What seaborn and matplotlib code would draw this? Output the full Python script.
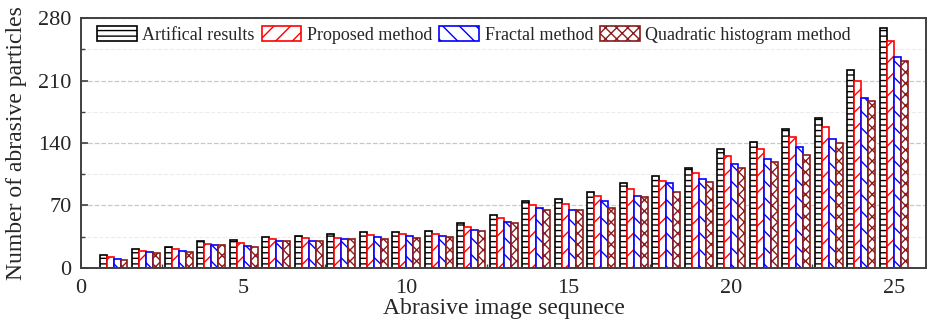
import pandas as pd
import matplotlib.pyplot as plt
import seaborn as sns
from matplotlib.ticker import MultipleLocator

# values
sequence = list(range(1, 26))
artifical = [14.6, 21.7, 23.6, 29.9, 31.8, 34.8, 36.0, 37.8, 40.0, 40.8,
             41.9, 50.1, 59.9, 74.8, 77.1, 84.9, 94.7, 102.9, 112.4, 133.3,
             141.6, 155.4, 167.8, 222.0, 268.9]
proposed = [12.6, 19.4, 21.3, 27.0, 28.0, 32.2, 33.3, 34.0, 37.0, 37.8,
            38.5, 46.0, 56.2, 70.3, 71.9, 80.1, 88.8, 97.3, 106.3, 125.8,
            133.3, 146.8, 158.0, 209.3, 254.3]
fractal = [10.1, 18.0, 19.4, 25.8, 25.0, 29.9, 30.3, 32.2, 35.2, 36.0,
           36.3, 43.0, 52.0, 67.4, 65.2, 74.8, 80.1, 95.0, 100.0, 116.4,
           122.5, 135.5, 144.2, 190.0, 236.0]
quadratic = [9.0, 16.9, 18.0, 25.8, 24.0, 29.9, 30.3, 32.2, 33.0, 33.7,
             35.2, 41.9, 50.1, 65.2, 65.2, 67.4, 79.0, 85.0, 96.2, 112.4,
             118.3, 126.5, 140.5, 186.9, 231.5]
methods = ["Artifical results", "Proposed method", "Fractal method",
           "Quadratic histogram method"]
colors = ["black", "red", "blue", "#8B1A1A"]
hatches = ["---", "//", "\\\\", "xxx"]

df = pd.DataFrame({
    "seq": sequence * 4,
    "method": [m for m in methods for _ in sequence],
    "count": artifical + proposed + fractal + quadratic,
})

sns.set_style("ticks")
plt.rcParams["font.family"] = ["Liberation Serif", "DejaVu Serif"]
plt.rcParams["hatch.linewidth"] = 1.0

fig = plt.figure(figsize=(9.28, 3.24), dpi=100)
ax = fig.add_axes([0.0873, 0.173, 0.9107, 0.771])

sns.barplot(data=df, x="seq", y="count", hue="method", hue_order=methods,
            palette=colors, native_scale=True, width=0.86, legend=False,
            errorbar=None, ax=ax)

for cont, col, h in zip(ax.containers, colors, hatches):
    for bar in cont:
        bar.set_facecolor("white")
        bar.set_edgecolor(col)
        bar.set_hatch(h)
        bar.set_linewidth(1.2)

ax.set_xlim(0, 26)
ax.set_ylim(0, 280)
ax.xaxis.set_major_locator(MultipleLocator(5))
ax.xaxis.set_minor_locator(MultipleLocator(2.5))
ax.yaxis.set_major_locator(MultipleLocator(70))
ax.yaxis.set_minor_locator(MultipleLocator(35))
ax.tick_params(which="both", direction="in", labelsize=16, color="#404040")
ax.tick_params(which="major", length=5, width=1.2, pad=7)
ax.tick_params(axis="x", which="major", pad=8)
ax.tick_params(which="minor", length=3, width=1.0)

ax.grid(axis="y", which="major", linestyle="--", color="#c8c8c8", linewidth=0.9)
ax.grid(axis="y", which="minor", linestyle="--", color="#ececec", linewidth=0.8)
ax.set_axisbelow(True)

for sp in ax.spines.values():
    sp.set_visible(True)
    sp.set_color("#404040")
    sp.set_linewidth(1.4)

ax.set_xlabel("Abrasive image sequnece", fontsize=17, labelpad=0)
ax.set_ylabel("Number of abrasive particles", fontsize=17, labelpad=8)

ax.legend(ax.containers, methods, loc="upper center", ncol=4, frameon=False,
          fontsize=13, handlelength=2.2, handleheight=0.9, handletextpad=0.3,
          columnspacing=0.4, bbox_to_anchor=(0.465, 1.02), borderaxespad=0.3)

fig.savefig("out.png", dpi=100)
